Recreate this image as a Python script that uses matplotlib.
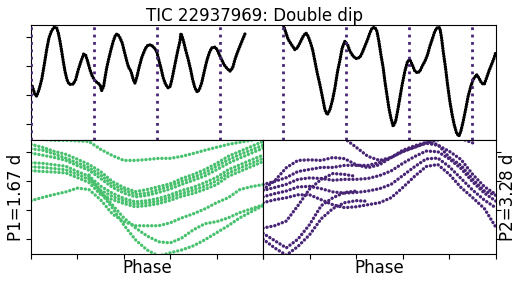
import numpy as np
import matplotlib
matplotlib.use('Agg')
import matplotlib.pyplot as plt

nan = np.nan

# light curve, first orbit (time in days, relative flux in %)
t1 = [0.034, 0.106, 0.151, 0.212, 0.284, 0.353, 0.416, 0.477, 0.549, 0.618, 0.681, 0.724,
      0.769, 0.814, 0.856, 0.901, 0.954, 1.007, 1.060, 1.121, 1.185, 1.254, 1.326, 1.397,
      1.450, 1.503, 1.564, 1.625, 1.697, 1.768, 1.829, 1.874, 1.927, 1.962, 2.007, 2.068,
      2.121, 2.182, 2.245, 2.298, 2.359, 2.420, 2.473, 2.518, 2.564, 2.598, 2.651, 2.712,
      2.757, 2.802, 2.863, 2.935, 3.004, 3.067, 3.128, 3.200, 3.269, 3.332, 3.375, 3.446,
      3.507, 3.571, 3.640, 3.693, 3.746, 3.817, 3.889, 3.950, 3.976, 4.021, 4.056, 4.109,
      4.170, 4.234, 4.287, 4.348, 4.409, 4.462, 4.525, 4.586, 4.658, 4.727, 4.790, 4.878,
      4.939, 4.992, 5.055, 5.116, 5.188, 5.275, 5.347, 5.408, 5.469, 5.540, 5.612, 5.673]
f1 = [-0.69, -0.98, -1.03, -0.81, -0.46, 0.06, 0.57, 0.98, 1.23, 1.34, 1.32, 1.15,
      0.86, 0.52, 0.17, -0.17, -0.46, -0.61, -0.63, -0.61, -0.46, -0.12, 0.17, 0.42,
      0.38, 0.17, -0.12, -0.34, -0.50, -0.58, -0.63, -0.84, -0.69, -0.40, -0.06, 0.29,
      0.57, 0.86, 1.09, 1.11, 0.98, 0.80, 0.52, 0.29, 0.06, -0.06, -0.17, -0.46,
      -0.58, -0.40, -0.06, 0.29, 0.52, 0.69, 0.74, 0.72, 0.63, 0.52, 0.29, -0.06,
      -0.40, -0.63, -0.75, -0.69, -0.40, 0.06, 0.52, 0.86, 1.13, 0.98, 0.80, 0.52,
      0.23, -0.12, -0.46, -0.75, -0.89, -0.81, -0.58, -0.23, 0.17, 0.46, 0.63, 0.66,
      0.57, 0.40, 0.23, 0.06, -0.06, -0.17, -0.06, 0.23, 0.46, 0.69, 0.92, 1.11]

# light curve, second orbit
t2 = [6.641, 6.688, 6.760, 6.821, 6.911, 6.998, 7.059, 7.131, 7.218, 7.290, 7.351, 7.415,
      7.468, 7.529, 7.590, 7.661, 7.733, 7.794, 7.855, 7.926, 7.998, 8.059, 8.130, 8.191,
      8.252, 8.324, 8.395, 8.457, 8.544, 8.634, 8.722, 8.783, 8.854, 8.926, 8.987, 9.048,
      9.119, 9.172, 9.225, 9.279, 9.340, 9.385, 9.438, 9.491, 9.544, 9.605, 9.668, 9.721,
      9.782, 9.843, 9.915, 9.986, 10.047, 10.108, 10.180, 10.251, 10.312, 10.373, 10.445,
      10.516, 10.577, 10.638, 10.710, 10.781, 10.842, 10.887, 10.930, 10.993, 11.046,
      11.107, 11.168, 11.222, 11.285, 11.346, 11.399, 11.460, 11.524, 11.593, 11.664,
      11.725, 11.815, 11.876, 11.948, 12.017, 12.081, 12.142, 12.213, 12.282, 12.327]
f2 = [1.67, 1.43, 1.15, 0.92, 0.74, 0.57, 0.63, 0.80, 1.03, 1.15, 1.03, 0.80,
      0.57, 0.17, -0.23, -0.63, -1.09, -1.50, -1.67, -1.50, -1.15, -0.75, -0.17, 0.20,
      0.63, 0.86, 0.74, 0.52, 0.34, 0.26, 0.31, 0.46, 0.69, 0.92, 1.15, 1.32,
      1.34, 1.21, 0.86, 0.40, -0.06, -0.52, -0.98, -1.44, -1.78, -2.07, -1.90, -1.55,
      -1.09, -0.63, -0.17, 0.17, 0.23, 0.06, -0.17, -0.23, -0.17, 0.00, 0.17,
      0.40, 0.69, 0.92, 1.21, 1.34, 1.32, 0.98, 0.52, -0.06, -0.63,
      -1.21, -1.67, -2.01, -2.30, -2.41, -2.24, -1.90, -1.50, -1.03, -0.69,
      -0.46, -0.29, -0.40, -0.58, -0.63, -0.40, -0.17, 0.06, 0.29, 0.49]

P1 = 1.67
P2 = 3.28
dip_times = [0.0, 1.67, 3.34, 5.01, 6.68, 8.35, 10.02, 11.69]

phase = [0.00, 0.05, 0.10, 0.15, 0.20, 0.25, 0.30, 0.35, 0.40, 0.45, 0.50,
         0.55, 0.60, 0.65, 0.70, 0.75, 0.80, 0.85, 0.90, 0.95, 1.00]

# folded at P1, one list per cycle strand
green_strands = [
    [1.25, 1.15, 1.01, 0.91, 0.74, 0.56, 0.32, -0.02, -0.23, -0.37, -0.30, -0.20, -0.10, 0.08, 0.22, 0.39, 0.60, 0.84, 1.01, 1.18, 1.35],
    [1.10, 1.05, 0.92, 0.78, 0.62, 0.45, 0.20, -0.12, -0.32, -0.46, -0.42, -0.30, -0.18, -0.02, 0.12, 0.28, 0.50, 0.72, 0.90, 1.06, 1.22],
    [0.95, 0.88, 0.80, 0.70, 0.52, 0.36, 0.08, -0.22, -0.42, -0.55, -0.50, -0.40, -0.28, -0.12, 0.02, 0.17, 0.38, 0.60, 0.78, 0.95, 1.12],
    [0.62, 0.60, 0.55, 0.50, 0.32, 0.16, -0.18, -0.42, -0.60, -0.72, -0.68, -0.60, -0.48, -0.33, -0.22, -0.06, 0.12, 0.38, 0.55, 0.72, 0.88],
    [0.48, 0.46, 0.42, 0.38, 0.22, 0.05, -0.32, -0.53, -0.69, -0.80, -0.76, -0.69, -0.57, -0.43, -0.32, -0.18, 0.00, 0.26, 0.44, 0.60, 0.77],
    [0.35, 0.32, 0.30, 0.27, 0.11, -0.06, -0.47, -0.64, -0.78, -0.89, -0.85, -0.78, -0.67, -0.53, -0.43, -0.29, -0.13, 0.15, 0.32, 0.49, 0.66],
    [1.46, 1.42, 1.39, 1.39, 1.37, 1.35, 1.08, 0.87, 0.70, 0.70, 0.73, 0.77, 0.77, 0.84, 0.94, 1.05, 1.15, 1.25, 1.32, 1.39, 1.46],
    [-0.68, -0.57, -0.47, -0.38, -0.25, -0.30, -0.65, -1.13, -1.40, -1.54, -1.54, -1.54, -1.44, -1.27, -1.13, -0.96, -0.75, -0.58, -0.30, -0.20, -0.13],
    [nan, nan, nan, nan, nan, 0.10, -0.35, -0.82, -1.27, -1.61, -1.89, -2.09, -2.13, -1.96, -1.68, -1.47, -1.40, -1.27, -1.09, -0.96, -0.82],
    [nan, nan, nan, nan, nan, 0.20, -0.40, -0.92, -1.51, -2.02, -2.37, -2.58, -2.47, -2.37, -2.23, -2.02, -1.78, -1.54, -1.27, -1.06, -0.85],
]

# folded at P2
purple_strands = [
    [-0.13, -0.02, 0.11, 0.32, 0.39, 0.46, 0.46, 0.53, 0.53, 0.53, 0.63, 0.80, 1.01, 1.15, 1.29, 1.22, 1.01, 0.73, 0.22, -0.20, -0.47],
    [-0.33, -0.23, -0.12, 0.05, 0.10, 0.08, 0.02, 0.05, 0.05, 0.08, 0.18, 0.34, 0.60, 0.83, 1.02, 1.00, 0.75, 0.42, -0.04, -0.42, -0.70],
    [-0.55, -0.44, -0.35, -0.21, -0.19, -0.27, -0.38, -0.42, -0.40, -0.35, -0.27, -0.12, 0.18, 0.48, 0.75, 0.78, 0.48, 0.08, -0.32, -0.66, -0.93],
    [-0.75, -0.65, -0.58, -0.48, -0.48, -0.65, -0.82, -0.92, -0.89, -0.82, -0.75, -0.58, -0.23, 0.15, 0.49, 0.56, 0.22, -0.23, -0.58, -0.95, -1.60],
    [-0.30, 0.00, 0.45, 0.70, 0.72, 0.70, 0.80, 0.76, 0.55, 0.45, 0.55, 0.80, 1.05, 1.20, 1.32, 1.25, 0.80, 0.53, 0.05, -0.35, -0.50],
    [nan, nan, nan, nan, nan, nan, 1.60, 1.45, 1.15, 0.84, 0.70, 0.80, 1.00, 1.15, 1.30, 1.40, 1.50, 1.45, 1.30, nan, nan],
    [-1.62, -1.54, -1.38, -0.85, -0.28, 0.05, 0.25, 0.22, 0.15, nan, nan, nan, nan, nan, nan, nan, nan, nan, nan, nan, nan],
    [-1.80, -2.05, -2.30, -2.00, -1.50, -0.85, -0.58, -0.40, -0.35, nan, nan, nan, nan, nan, nan, nan, nan, nan, nan, nan, nan],
    [-2.00, -2.30, -2.55, -2.25, -1.85, -1.30, -0.95, -0.75, -0.68, -0.70, nan, nan, nan, nan, nan, nan, nan, nan, nan, nan, nan],
]

green = '#48c16e'
purple = '#482475'

fig = plt.figure(figsize=(5.26, 2.86), dpi=100)
ax = fig.add_axes([0.0589, 0.5105, 0.8840, 0.4031])
ax1 = fig.add_axes([0.0589, 0.1108, 0.4411, 0.3997])
ax2 = fig.add_axes([0.5, 0.1108, 0.4430, 0.3997])

beads = (0, (0.05, 0.75))
ax.plot(t1, f1, color='k', lw=2.4, linestyle=beads, dash_capstyle='round')
ax.plot(t2, f2, color='k', lw=2.4, linestyle=beads, dash_capstyle='round')
for t in dip_times:
    ax.axvline(t, color=purple, lw=2, linestyle=':', zorder=5)
ax.set_xlim(0, 12.33)
ax.set_ylim(-2.54, 1.43)
ax.set_xticks([])
ax.set_yticks([-2, -1, 0, 1])
ax.set_yticklabels([])
ax.set_title('TIC 22937969: Double dip', fontsize=12, x=0.48, pad=3)

dots = (0, (0.05, 1.15))
for s in green_strands:
    ax1.plot(phase, s, color=green, lw=2.4, linestyle=dots, dash_capstyle='round')
for s in purple_strands:
    ax2.plot(phase, s, color=purple, lw=2.4, linestyle=dots, dash_capstyle='round')

for a in (ax1, ax2):
    a.set_xlim(0, 1)
    a.set_ylim(-2.52, 1.40)
    a.set_xticks([0, 0.2, 0.4, 0.6, 0.8, 1.0])
    a.set_xticklabels([])
    a.set_yticks([-2, -1, 0, 1])
    a.set_yticklabels([])
    a.set_xlabel('Phase', fontsize=12, labelpad=-3.5)

ax1.set_ylabel('P1=%.2f d' % P1, fontsize=12, labelpad=-2.5)
ax2.yaxis.tick_right()
ax2.yaxis.set_label_position('right')
ax2.set_ylabel('P2=%.2f d' % P2, fontsize=12, labelpad=-5)

fig.savefig('out.png', dpi=100)
